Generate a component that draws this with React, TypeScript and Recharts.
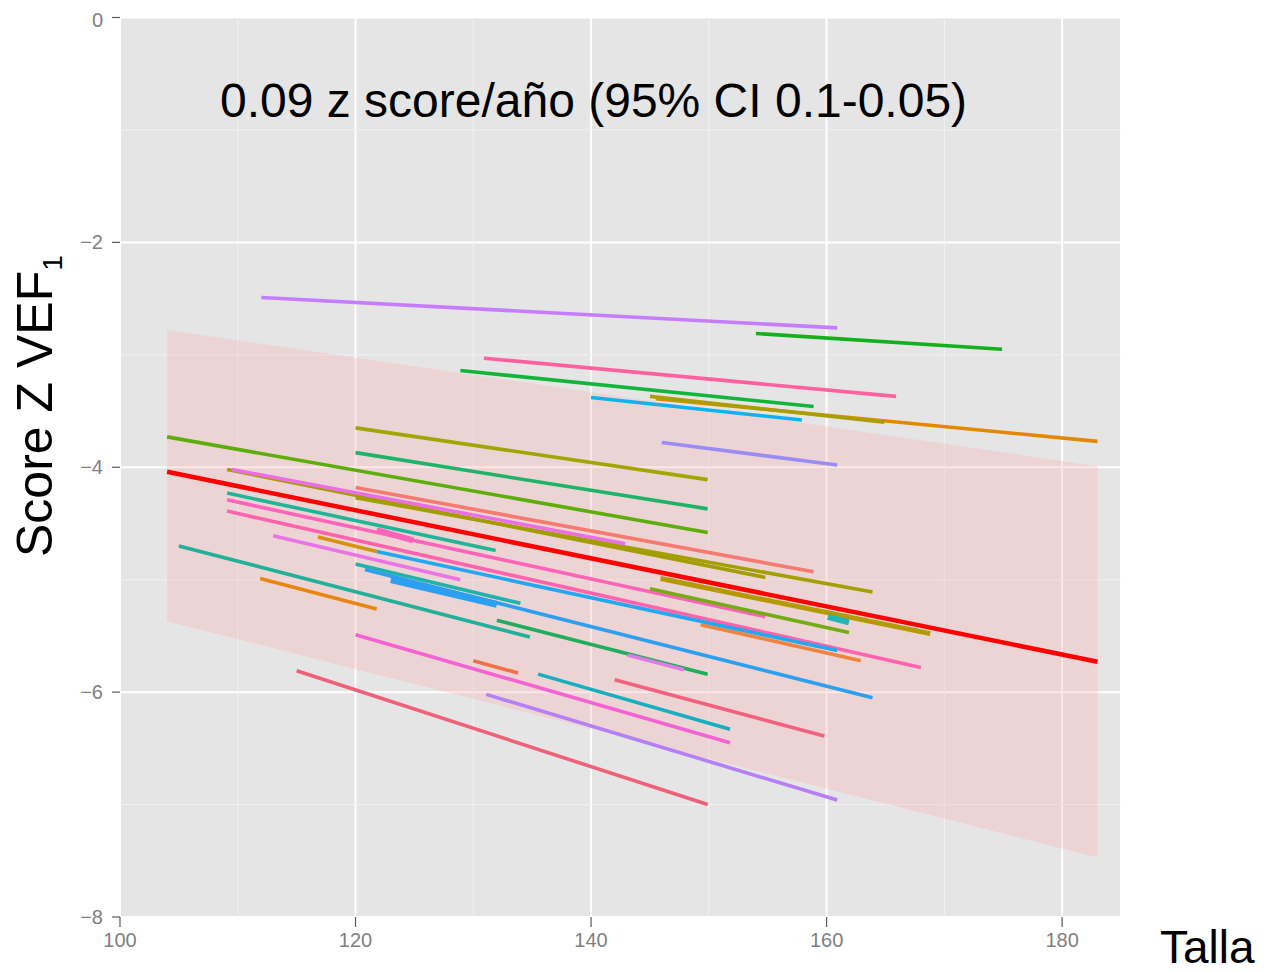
import { Area, CartesianGrid, ComposedChart, Line, ReferenceLine, XAxis, YAxis } from 'recharts'

// axis ticks
const tallaTicks = [100, 120, 140, 160, 180]
const zTicks = [-8, -6, -4, -2, 0]
const minorTalla = [110, 130, 150, 170]
const minorZ = [-7, -5, -3, -1]

// one segment per patient: first and last height (Talla) and z score
const startTalla = [
  112.0, 154.0, 130.9, 128.9, 140.0, 145.5, 145.0, 146.0, 120.0, 120.0,
  104.0, 120.0, 120.0, 109.1, 109.5, 109.1, 109.1, 109.1, 121.8, 113.0,
  116.8, 149.3, 121.8, 120.0, 120.8, 123.0, 105.0, 111.9, 145.9, 145.0,
  160.1, 132.0, 143.1, 130.0, 120.0, 135.5, 142.0, 131.1, 115.0,
]
const endTalla = [
  160.9, 174.9, 165.9, 158.9, 157.9, 183.0, 164.9, 160.9, 149.9, 149.9,
  149.9, 158.9, 163.9, 154.8, 142.9, 131.9, 154.8, 168.0, 124.9, 128.9,
  121.8, 162.9, 160.9, 134.0, 163.9, 132.0, 134.8, 121.8, 168.8, 161.9,
  161.9, 149.9, 147.9, 133.8, 151.8, 151.8, 159.8, 160.9, 149.9,
]
const startZ = [
  -2.49, -2.81, -3.03, -3.14, -3.38, -3.39, -3.37, -3.78, -3.65, -3.87,
  -3.73, -4.18, -4.27, -4.02, -4.02, -4.23, -4.29, -4.39, -4.56, -4.61,
  -4.62, -5.4, -4.75, -4.86, -4.91, -5.0, -4.7, -4.99, -4.99, -5.08,
  -5.33, -5.36, -5.67, -5.72, -5.49, -5.84, -5.89, -6.02, -5.81,
]
const endZ = [
  -2.76, -2.95, -3.37, -3.46, -3.58, -3.77, -3.6, -3.98, -4.11, -4.37,
  -4.58, -4.93, -5.11, -4.98, -4.68, -4.74, -5.33, -5.78, -4.65, -5.0,
  -4.75, -5.72, -5.63, -5.21, -6.05, -5.22, -5.51, -5.26, -5.48, -5.47,
  -5.38, -5.84, -5.8, -5.83, -6.45, -6.33, -6.39, -6.96, -7.0,
]

// prediction band and fitted line
const bandTalla = [104, 183]
const bandLow = [-5.37, -7.47]
const bandHigh = [-2.78, -3.99]
const fitTalla = [104, 183]
const fitZ = [-4.04, -5.73]

const lineColors = [
  '#c77cff', '#13b01c', '#ff61a0', '#12b43a', '#0fb2ee', '#e38900', '#a8a000', '#9b8cf5', '#a3a500', '#1db468',
  '#5dae0a', '#f57b70', '#a3a000', '#a39d00', '#ec6ee4', '#1fb597', '#fb64b9', '#ff63ad', '#fb64b9', '#e874e6',
  '#d6930d', '#ef8440', '#22a7f0', '#21b3a9', '#2d9ff0', '#2d9ff0', '#21b099', '#e8860f', '#b49a00', '#74ad12',
  '#22b6b8', '#1eae5c', '#df7ae6', '#ef7049', '#f462d4', '#16afc0', '#f2617f', '#b57ff5', '#ee6178',
]
const thickLines: Record<number, number> = { 18: 6, 25: 7, 28: 5, 30: 6 }

const font = '"Liberation Sans", Arial, sans-serif'
const fmt = (v: number) => (v < 0 ? `\u2212${-v}` : `${v}`)

export default function App() {
  const segments = startTalla.map((t, i) => [
    { talla: t, z: startZ[i] },
    { talla: endTalla[i], z: endZ[i] },
  ])
  const band = bandTalla.map((t, i) => ({ talla: t, range: [bandLow[i], bandHigh[i]] }))
  const fit = fitTalla.map((t, i) => ({ talla: t, z: fitZ[i] }))
  const tick = { fill: '#7f7f7f', fontSize: 20, fontFamily: font }

  return (
    <div style={{ position: 'relative', width: 1260, height: 964 }}>
      <ComposedChart width={1260} height={964} margin={{ top: 9.5, right: 147, left: 0, bottom: 0 }}>
        <CartesianGrid fill="#e5e5e5" stroke="#ffffff" strokeWidth={2} />
        {minorTalla.map((t) => (
          <ReferenceLine key={`mx${t}`} x={t} stroke="#f2f2f2" strokeWidth={1} zIndex={-90} />
        ))}
        {minorZ.map((z) => (
          <ReferenceLine key={`my${z}`} y={z} stroke="#f2f2f2" strokeWidth={1} zIndex={-90} />
        ))}
        <XAxis
          type="number"
          dataKey="talla"
          domain={[100, 185]}
          ticks={tallaTicks}
          axisLine={false}
          tickSize={10}
          tickMargin={6}
          tickLine={{ stroke: '#5a5a5a', strokeWidth: 1.2 }}
          tick={tick}
          height={55}
          allowDataOverflow
        />
        <YAxis
          type="number"
          domain={[-8, 0]}
          ticks={zTicks}
          axisLine={false}
          tickSize={8}
          tickMargin={9}
          tickLine={{ stroke: '#5a5a5a', strokeWidth: 1.2 }}
          tick={tick}
          tickFormatter={fmt}
          width={112}
          allowDataOverflow
        />
        <Area
          data={band}
          dataKey="range"
          type="linear"
          stroke="none"
          fill="#ffb0b0"
          fillOpacity={0.32}
          isAnimationActive={false}
        />
        {segments.map((seg, i) => (
          <Line
            key={`s${i}`}
            data={seg}
            dataKey="z"
            type="linear"
            stroke={lineColors[i]}
            strokeWidth={thickLines[i] ?? 3.6}
            dot={false}
            activeDot={false}
            isAnimationActive={false}
          />
        ))}
        <Line
          data={fit}
          dataKey="z"
          type="linear"
          stroke="#ff0000"
          strokeWidth={4.5}
          dot={false}
          activeDot={false}
          isAnimationActive={false}
        />
      </ComposedChart>
      <svg
        width={1260}
        height={964}
        style={{ position: 'absolute', left: 0, top: 0, pointerEvents: 'none' }}
      >
        <text x={212} y={109} fontSize={48} fontFamily={font} fill="#000">
          0.09 z score/año (95% CI 0.1-0.05)
        </text>
        <text transform="translate(44,549) rotate(-90)" fontSize={50} fontFamily={font} fill="#000">
          Score Z VEF
          <tspan fontSize={28} dy={10}>1</tspan>
        </text>
        <text x={1152} y={955} fontSize={46} fontFamily={font} fill="#000">
          Talla
        </text>
      </svg>
    </div>
  )
}
